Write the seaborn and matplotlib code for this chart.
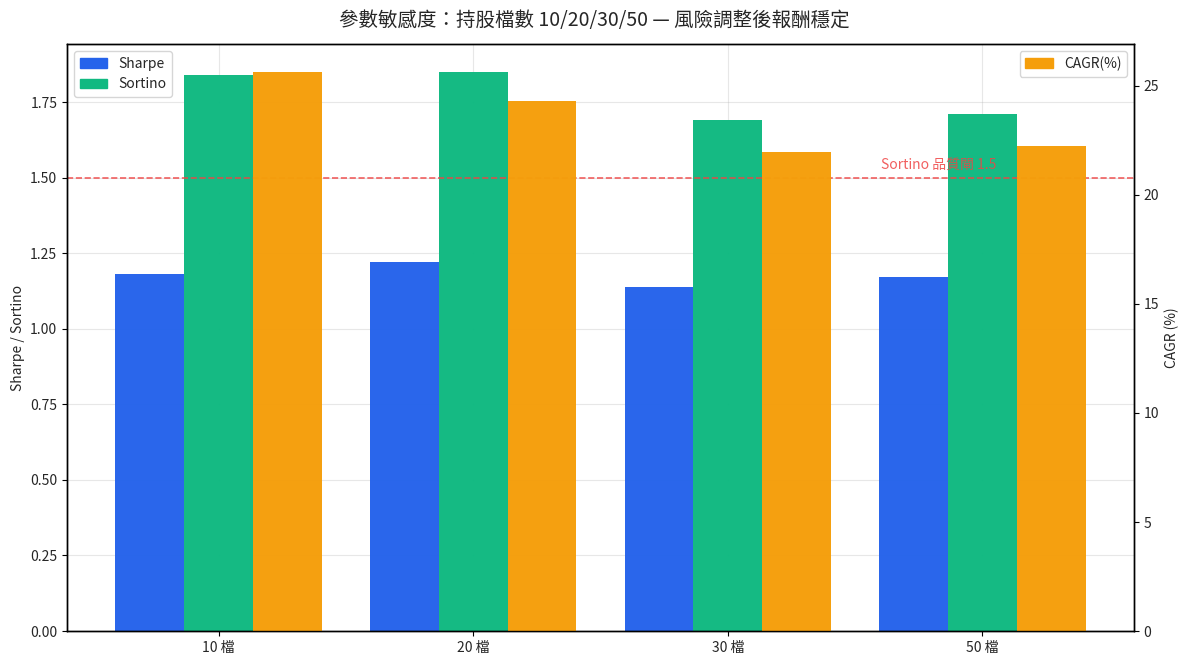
import matplotlib
matplotlib.use("Agg")
import matplotlib.pyplot as plt
from matplotlib.patches import Patch
import seaborn as sns
import pandas as pd

# ---- data ----
groups = ["10 檔", "20 檔", "30 檔", "50 檔"]
sharpe = [1.18, 1.22, 1.14, 1.17]
sortino = [1.84, 1.85, 1.69, 1.71]
cagr = [25.64, 24.31, 21.97, 22.25]
metrics = ["Sharpe", "Sortino", "CAGR(%)"]
colors = {"Sharpe": "#2563eb", "Sortino": "#10b981", "CAGR(%)": "#f59e0b"}
gate = 1.5
gate_label = "Sortino 品質閘 1.5"
title = "參數敏感度：持股檔數 10/20/30/50 — 風險調整後報酬穩定"

sns.set_theme(style="ticks")
fam = ["Noto Sans CJK TC", "DejaVu Sans"]
plt.rcParams["font.family"] = fam
plt.rcParams["axes.unicode_minus"] = False

rows = []
for g, s, so, c in zip(groups, sharpe, sortino, cagr):
    rows.append({"group": g, "metric": "Sharpe", "value": s})
    rows.append({"group": g, "metric": "Sortino", "value": so})
    rows.append({"group": g, "metric": "CAGR(%)", "value": c})
df = pd.DataFrame(rows)
left_df = df[df["metric"].isin(["Sharpe", "Sortino"])]
right_df = df[df["metric"] == "CAGR(%)"]

fig = plt.figure(figsize=(11.89, 6.65), dpi=100)
ax1 = fig.add_axes([0.0564, 0.0511, 0.8973, 0.8827])
ax2 = ax1.twinx()

sns.barplot(data=left_df, x="group", y="value", hue="metric", order=groups,
            hue_order=metrics, palette=colors, width=0.81, errorbar=None,
            alpha=0.98, legend=False, ax=ax1, saturation=1, dodge=True,
            linewidth=0)
sns.barplot(data=right_df, x="group", y="value", hue="metric", order=groups,
            hue_order=metrics, palette=colors, width=0.81, errorbar=None,
            alpha=0.98, legend=False, ax=ax2, saturation=1, dodge=True,
            linewidth=0)

ax1.axhline(gate, color="#ef4444", ls="--", lw=1.2, alpha=0.85)
ax1.text(2.6, gate + 0.02, gate_label, color="#ef4444", alpha=0.85,
         fontsize=10, ha="left", va="bottom")

ax1.set_ylim(0, max(sharpe + sortino) * 1.05)
ax2.set_ylim(0, max(cagr) * 1.05)
ax1.set_xlim(-0.595, 3.595)

ax1.set_axisbelow(True)
ax1.grid(True, alpha=0.3, color="#b0b0b0", lw=0.8)
ax2.grid(False)

ax1.set_xlabel("")
ax2.set_xlabel("")
ax1.set_ylabel("Sharpe / Sortino", fontsize=10)
ax2.set_ylabel("CAGR (%)", fontsize=10)
for ax in (ax1, ax2):
    ax.tick_params(labelsize=10, length=3.5, width=0.8, color="black")
    for sp in ax.spines.values():
        sp.set_color("black")
        sp.set_linewidth(1.0)
        sp.set_visible(True)

h1 = [Patch(color=colors["Sharpe"], label="Sharpe"),
      Patch(color=colors["Sortino"], label="Sortino")]
h2 = [Patch(color=colors["CAGR(%)"], label="CAGR(%)")]
ax1.legend(handles=h1, loc="upper left", fontsize=10, frameon=True)
ax2.legend(handles=h2, loc="upper right", fontsize=10, frameon=True)

fig.suptitle(title, fontsize=14, y=0.985)
fig.savefig("out.png", dpi=100)
